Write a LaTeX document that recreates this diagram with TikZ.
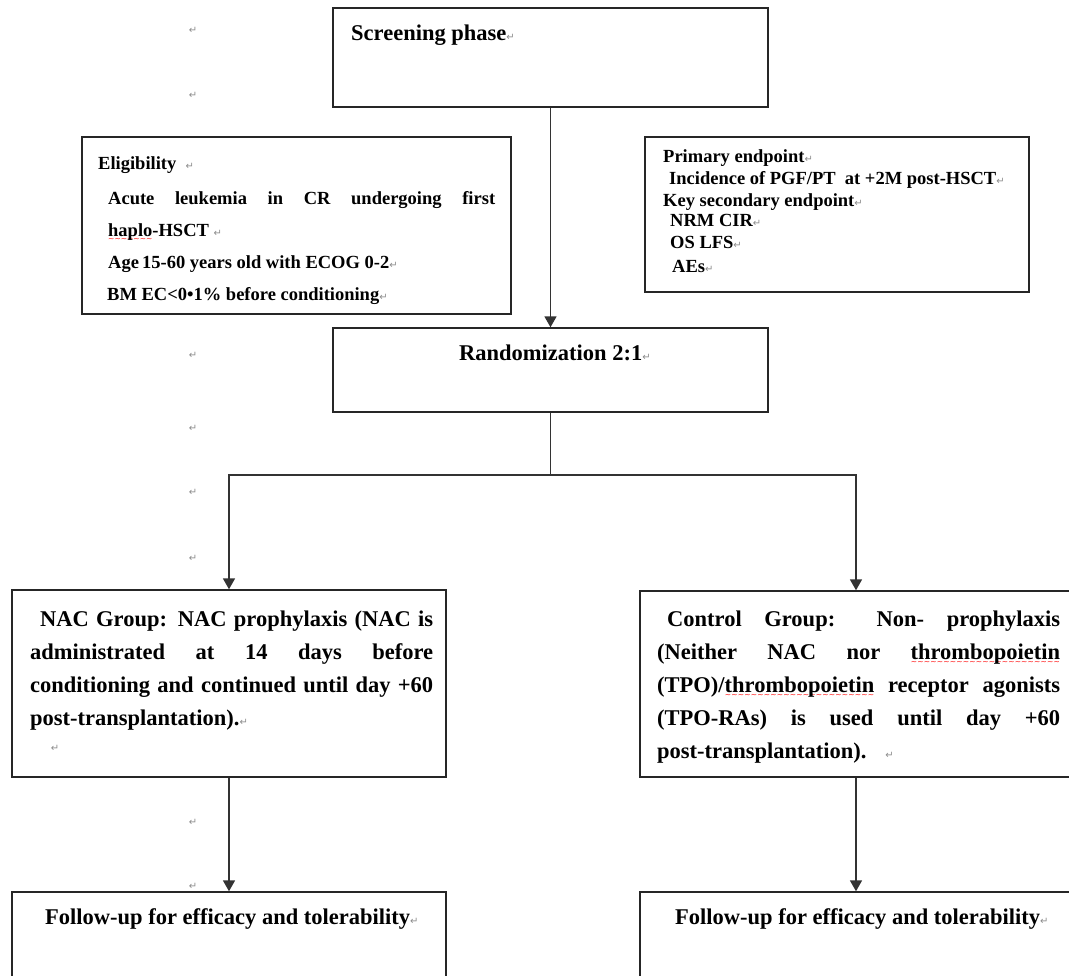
\documentclass[tikz,border=0pt]{standalone}
\usepackage{fontspec}
\setmainfont{Liberation Serif}
\newfontfamily\symfont{DejaVu Sans}
\usepackage{xcolor}
\usetikzlibrary{arrows.meta}
\newcommand\retmark{{\symfont\mdseries\fontsize{10}{10}\selectfont\textcolor{black!45}{↵}}}
\newcommand\redwave[1]{\setbox0\hbox{#1}\rlap{\lower5pt\hbox to\wd0{\color{red}\symfont\mdseries\fontsize{7.5}{7.5}\selectfont\xleaders\hbox{∼}\hfill}}#1}
\newcommand\bigtxt{\fontsize{22.5}{33}\selectfont\bfseries}
\newcommand\midtxt{\fontsize{18.5}{32}\selectfont\bfseries}
\begin{document}
\begin{tikzpicture}[x=1pt,y=-1pt,
  box/.style={draw=black!85,line width=1.4pt,inner sep=0pt},
  conn/.style={draw=black!80,line width=1.7pt},
  arr/.style={conn,-{Triangle[width=12pt,length=11pt]}},
  txt/.style={anchor=base west,inner sep=0pt,font=\bigtxt},
  stxt/.style={anchor=base west,inner sep=0pt,font=\midtxt},
  pmk/.style={inner sep=0pt}]
\useasboundingbox (0,0) rectangle (1069,976);

% boxes
\node[box,minimum width=435pt,minimum height=99pt] (screen) at (550.5,57.5) {};
\node[box,minimum width=429pt,minimum height=177pt] (elig) at (296.5,225.5) {};
\node[box,minimum width=384pt,minimum height=155pt] (endp) at (837,214.5) {};
\node[box,minimum width=435pt,minimum height=84pt] (rand) at (550.5,370) {};
\node[box,minimum width=434pt,minimum height=187pt] (nac) at (229,683.5) {};
\node[box,minimum width=432pt,minimum height=186pt] (ctrl) at (856,684) {};
\node[box,minimum width=434pt,minimum height=103pt] (fu1) at (229,943.5) {};
\node[box,minimum width=432pt,minimum height=103pt] (fu2) at (856,943.5) {};

% connectors
\coordinate (split) at (550.5,475);
\draw[arr] (screen.south) -- (rand.north);
\draw[conn] (rand.south) -- (split);
\draw[arr] (split) -| (nac.north);
\draw[arr] (split) -| (ctrl.north);
\draw[arr] (nac.south) -- (fu1.north);
\draw[arr] (ctrl.south) -- (fu2.north);

% texts
\node[txt] (tscreen) at (351,41) {Screening phase\retmark};
\node[txt] (trand) at (459,361) {Randomization 2:1\retmark};

\node[stxt] (e1) at (98,170) {Eligibility \ \retmark};
\node[stxt] (e2) at (108,205) {\makebox[387pt][s]{Acute leukemia in CR undergoing first}};
\node[stxt] (e3) at (108,237) {\redwave{haplo}-HSCT \retmark};
\node[stxt] (e4) at (108,269) {Age\,15-60 years old with ECOG 0-2\retmark};
\node[stxt] (e5) at (107,301) {BM EC<0•1\% before conditioning\retmark};

\node[stxt] (p1) at (663,163) {Primary endpoint\retmark};
\node[stxt] (p2) at (669,185) {Incidence of PGF/PT \ at +2M post-HSCT\retmark};
\node[stxt] (p3) at (663,207) {Key secondary endpoint\retmark};
\node[stxt] (p4) at (670,227) {NRM CIR\retmark};
\node[stxt] (p5) at (670,249) {OS LFS\retmark};
\node[stxt] (p6) at (672,273) {AEs\retmark};

\node[txt] (n1) at (40,626) {\makebox[393pt][s]{NAC Group: NAC prophylaxis (NAC is}};
\node[txt] (n2) at (30,659) {\makebox[403pt][s]{administrated at 14 days before}};
\node[txt] (n3) at (30,692) {\makebox[403pt][s]{conditioning and continued until day +60}};
\node[txt] (n4) at (30,725) {post-transplantation).\retmark};
\node[pmk] (nm) at (55,748) {\retmark};

\node[txt] (c1) at (667,626) {\makebox[393pt][s]{Control Group: Non- prophylaxis}};
\node[txt] (c2) at (657,659) {\makebox[403pt][s]{(Neither NAC nor \redwave{thrombopoietin}}};
\node[txt] (c3) at (657,692) {\makebox[403pt][s]{(TPO)/\redwave{thrombopoietin} receptor agonists}};
\node[txt] (c4) at (657,725) {\makebox[403pt][s]{(TPO-RAs) is used until day +60}};
\node[txt] (c5) at (657,758) {post-transplantation). \ \ \retmark};

\node[txt] (f1) at (45,924) {Follow-up for efficacy and tolerability\retmark};
\node[txt] (f2) at (675,924) {Follow-up for efficacy and tolerability\retmark};

% margin paragraph marks
\node[pmk] (m1) at (193,30) {\retmark};
\node[pmk] (m2) at (193,95) {\retmark};
\node[pmk] (m3) at (193,355) {\retmark};
\node[pmk] (m4) at (193,428) {\retmark};
\node[pmk] (m5) at (193,492) {\retmark};
\node[pmk] (m6) at (193,558) {\retmark};
\node[pmk] (m7) at (193,822) {\retmark};
\node[pmk] (m8) at (193,886) {\retmark};
\end{tikzpicture}
\end{document}
